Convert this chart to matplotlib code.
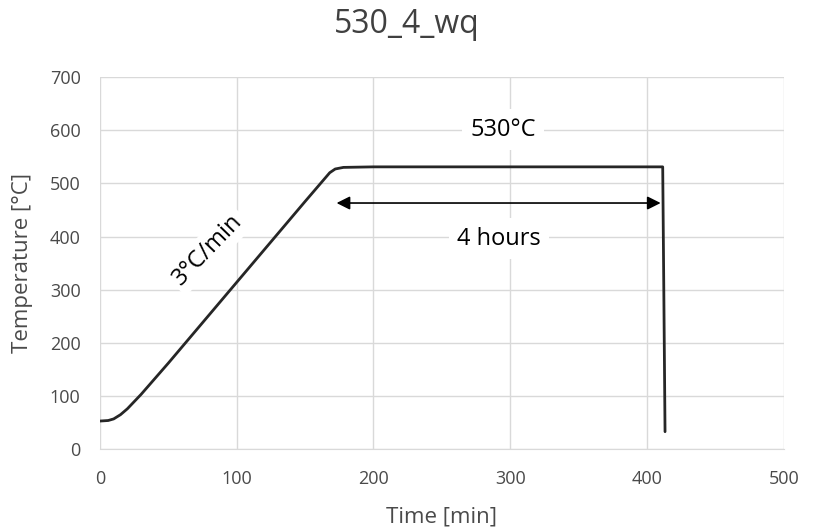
import matplotlib
matplotlib.use("Agg")
import matplotlib.pyplot as plt

plt.rcParams['font.family'] = ['Open Sans', 'DejaVu Sans']

time_min = [0, 6, 10, 15, 20, 30, 50, 100, 150, 160, 165, 168, 172, 178, 200, 300, 411.5, 412.3, 413.2]
temp_c = [53, 54, 57, 65, 76, 103, 162, 314, 466, 496, 511, 520, 527, 530, 531, 531, 531, 300, 33]

title = "530_4_wq"
xlabel = "Time [min]"
ylabel = "Temperature [°C]"
xticks = [0, 100, 200, 300, 400, 500]
yticks = [0, 100, 200, 300, 400, 500, 600, 700]
arrow_start, arrow_end, arrow_temp = 173, 410, 463

fig = plt.figure(figsize=(8.13, 5.31), dpi=100)
ax = fig.add_axes([0.123, 0.154, 0.841, 0.701])

ax.plot(time_min, temp_c, color="#262626", lw=2.0, solid_capstyle="round", zorder=3)
ax.set_xlim(0, 500)
ax.set_ylim(0, 700)
ax.set_xticks(xticks)
ax.set_yticks(yticks)
ax.grid(True, color="#d9d9d9", lw=1.0)
ax.set_axisbelow(True)
for s in ["top", "right", "left"]:
    ax.spines[s].set_visible(False)
ax.spines["bottom"].set_color("#d9d9d9")
ax.tick_params(axis="both", length=0, labelsize=13, colors="#4a4a4a")
ax.tick_params(axis="x", pad=15)
ax.tick_params(axis="y", pad=14)
ax.set_xlabel(xlabel, fontsize=16, color="#4a4a4a")
ax.set_ylabel(ylabel, fontsize=16, color="#4a4a4a")
ax.xaxis.set_label_coords(0.5, -0.183)
ax.xaxis.label.set_va("center")
ax.yaxis.set_label_coords(-0.113, 0.5)
ax.yaxis.label.set_va("center")
fig.text(0.5, 0.953, title, fontsize=23, color="#404040", ha="center", va="center")

ax.annotate("", xy=(arrow_start, arrow_temp), xytext=(arrow_end, arrow_temp),
            arrowprops=dict(arrowstyle="<|-|>", color="black", lw=1.2,
                            mutation_scale=20, shrinkA=0, shrinkB=0), zorder=4)
ax.text(295, 601, "530°C", fontsize=17, ha="center", va="center", color="black",
        bbox=dict(facecolor="white", edgecolor="none", pad=6), zorder=2)
ax.text(292, 396, "4 hours", fontsize=17, ha="center", va="center", color="black",
        bbox=dict(facecolor="white", edgecolor="none", pad=6), zorder=2)
ax.text(79, 375, "3°C/min", fontsize=17, ha="center", va="center", color="black",
        rotation=46, rotation_mode="anchor",
        bbox=dict(facecolor="white", edgecolor="none", pad=3), zorder=2)

fig.savefig("out.png", dpi=100)
